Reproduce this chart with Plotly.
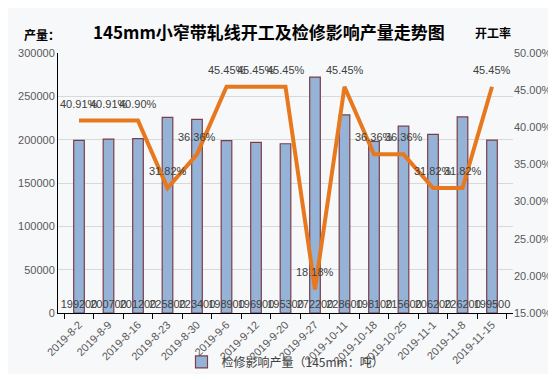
import plotly.graph_objects as go

categories = ["2019-8-2", "2019-8-9", "2019-8-16", "2019-8-23", "2019-8-30", "2019-9-6",
              "2019-9-12", "2019-9-20", "2019-9-27", "2019-10-11", "2019-10-18", "2019-10-25",
              "2019-11-1", "2019-11-8", "2019-11-15"]
output_values = [199200, 200700, 201200, 225800, 223400, 198900, 196900, 195300, 272200,
                 228600, 198100, 215600, 206200, 226200, 199500]
rate_values = [40.91, 40.91, 40.90, 31.82, 36.36, 45.45, 45.45, 45.45, 18.18, 45.45,
               36.36, 36.36, 31.82, 31.82, 45.45]

left_ticks = [0, 50000, 100000, 150000, 200000, 250000, 300000]
right_ticks = [15, 20, 25, 30, 35, 40, 45, 50]

font_cjk = "Noto Sans CJK SC, Microsoft YaHei, sans-serif"
font_lat = "Liberation Sans, Arial, sans-serif"
tick_font = dict(family=font_lat, size=11, color="#595959")

fig = go.Figure()
fig.add_trace(go.Bar(
    x=categories, y=output_values, name="检修影响产量（145mm：吨）",
    marker=dict(color="#95B3D7", line=dict(color="#7B3F4A", width=1.2)),
    width=0.36,
    text=[str(v) for v in output_values], textposition="inside", insidetextanchor="start",
    textangle=0, constraintext="none", cliponaxis=False,
    textfont=dict(family=font_lat, size=11, color="#404040"),
))
fig.add_trace(go.Scatter(
    x=categories, y=rate_values, yaxis="y2", mode="lines",
    line=dict(color="#E8781E", width=4),
    showlegend=False, cliponaxis=False,
))

for c, v in zip(categories, rate_values):
    fig.add_annotation(x=c, y=v, xref="x", yref="y2", text=f"{v:.2f}%", showarrow=False,
                       yshift=17, font=dict(family=font_lat, size=11, color="#404040"))

fig.update_layout(
    width=556, height=374,
    margin=dict(l=50, r=51, t=45, b=69, autoexpand=False),
    paper_bgcolor="#F7F8F9", plot_bgcolor="rgba(0,0,0,0)",
    showlegend=True,
    legend=dict(orientation="h", x=0.5, xanchor="center", yref="container", y=0.015, yanchor="bottom",
                font=dict(family=font_cjk, size=12, color="#404040"), bgcolor="rgba(0,0,0,0)"),
    xaxis=dict(type="category", automargin=False, showgrid=False, showline=True, linecolor="#000000", linewidth=1,
               ticks="outside", ticklen=5, tickcolor="#000000", tickson="boundaries",
               tickangle=-45, tickfont=dict(family=font_lat, size=11, color="#595959")),
    yaxis=dict(range=[0, 300000], automargin=False, tickvals=left_ticks, ticktext=[str(v) for v in left_ticks],
               showgrid=True, gridcolor="#D9D9D9", gridwidth=1, zeroline=False,
               showline=True, linecolor="#000000", linewidth=1, tickfont=tick_font),
    yaxis2=dict(range=[15, 50], automargin=False, tickvals=right_ticks, ticktext=[f"{v:.2f}%" for v in right_ticks],
                overlaying="y", side="right", showgrid=False, zeroline=False, showline=False,
                tickfont=tick_font),
)

fig.add_annotation(text="<b>145mm小窄带轧线开工及检修影响产量走势图</b>", xref="paper", yref="paper",
                   x=0.464, y=1, yanchor="middle", yshift=22, showarrow=False,
                   font=dict(family=font_cjk, size=17, color="#000000"))
fig.add_annotation(text="<b>产量：</b>", xref="paper", yref="paper", x=-0.079, xanchor="left",
                   y=1, yanchor="middle", yshift=19, showarrow=False,
                   font=dict(family=font_cjk, size=12, color="#000000"))
fig.add_annotation(text="<b>开工率</b>", xref="paper", yref="paper", x=1.0, xanchor="right",
                   y=1, yanchor="middle", yshift=21, showarrow=False,
                   font=dict(family=font_cjk, size=12, color="#000000"))

fig.write_html("out.html")
